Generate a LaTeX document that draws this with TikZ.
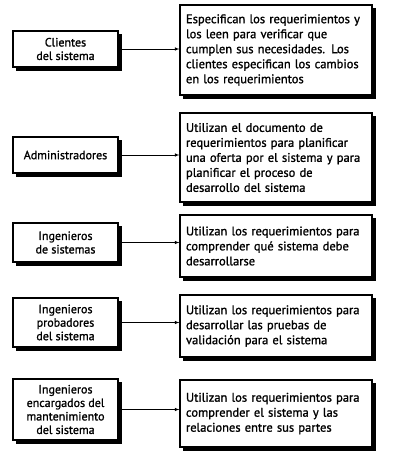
\documentclass[tikz,border=0pt]{standalone}
\usepackage{fontspec}
\setmainfont{PT Sans}
\newfontfamily\letra{PT Sans}[FakeBold=1.2]
\usepackage{tikz}
\usetikzlibrary{calc,backgrounds}

\begin{document}
\begin{tikzpicture}[x=1pt,y=-1pt,
  caja/.style={draw, line width=1.1pt, fill=white, inner ysep=0pt},
  quien/.style={caja, inner xsep=0pt, minimum width=105pt, align=center,
    font=\letra\fontsize{12}{13.5}\selectfont},
  tarea/.style={caja, inner xsep=6pt, text width=180pt, align=left,
    font=\letra\fontsize{12.5}{15}\selectfont},
  flecha/.style={-latex, line width=0.6pt}]
\useasboundingbox (0,0) rectangle (406,469);
% quienes usan el documento
\path (65.5,49) node[quien, minimum height=36pt] (cli) {Clientes\\del sistema};
\path (65.5,155) node[quien, minimum height=36pt] (adm) {Administradores};
\path (65.5,242.5) node[quien, minimum height=39pt] (ing) {Ingenieros\\de sistemas};
\path (65.5,322.5) node[quien, minimum height=49pt] (prb) {Ingenieros\\probadores\\del sistema};
\path (65.5,409.5) node[quien, minimum height=61pt] (mnt) {Ingenieros\\encargados del\\mantenimiento\\del sistema};
% para que lo usan
\path (276,50) node[tarea, minimum height=90pt] (tcli) {Especifican los requerimientos y\\los leen para verificar que\\cumplen sus necesidades. Los\\clientes especifican los cambios\\en los requerimientos};
\path (276,157.5) node[tarea, minimum height=89pt] (tadm) {Utilizan el documento de\\requerimientos para planificar\\una oferta por el sistema y para\\planificar el proceso de\\desarrollo del sistema};
\path (276,246) node[tarea, minimum height=62pt] (ting) {Utilizan los requerimientos para\\comprender qué sistema debe\\desarrollarse};
\path (276,326) node[tarea, minimum height=62pt] (tprb) {Utilizan los requerimientos para\\desarrollar las pruebas de\\validación para el sistema};
\path (276,413.5) node[tarea, minimum height=67pt] (tmnt) {Utilizan los requerimientos para\\comprender el sistema y las\\relaciones entre sus partes};
\foreach \a/\b in {cli/tcli,adm/tadm,ing/ting,prb/tprb,mnt/tmnt}
  \draw[flecha] (\a.east) -- (\a.east -| \b.west);
% sombras
\begin{scope}[on background layer]
\foreach \n in {cli,adm,ing,prb,mnt,tcli,tadm,ting,tprb,tmnt}
  \fill ([shift={(3.5,3.5)}]\n.north west) rectangle ([shift={(3.5,3.5)}]\n.south east);
\end{scope}
\end{tikzpicture}
\end{document}
